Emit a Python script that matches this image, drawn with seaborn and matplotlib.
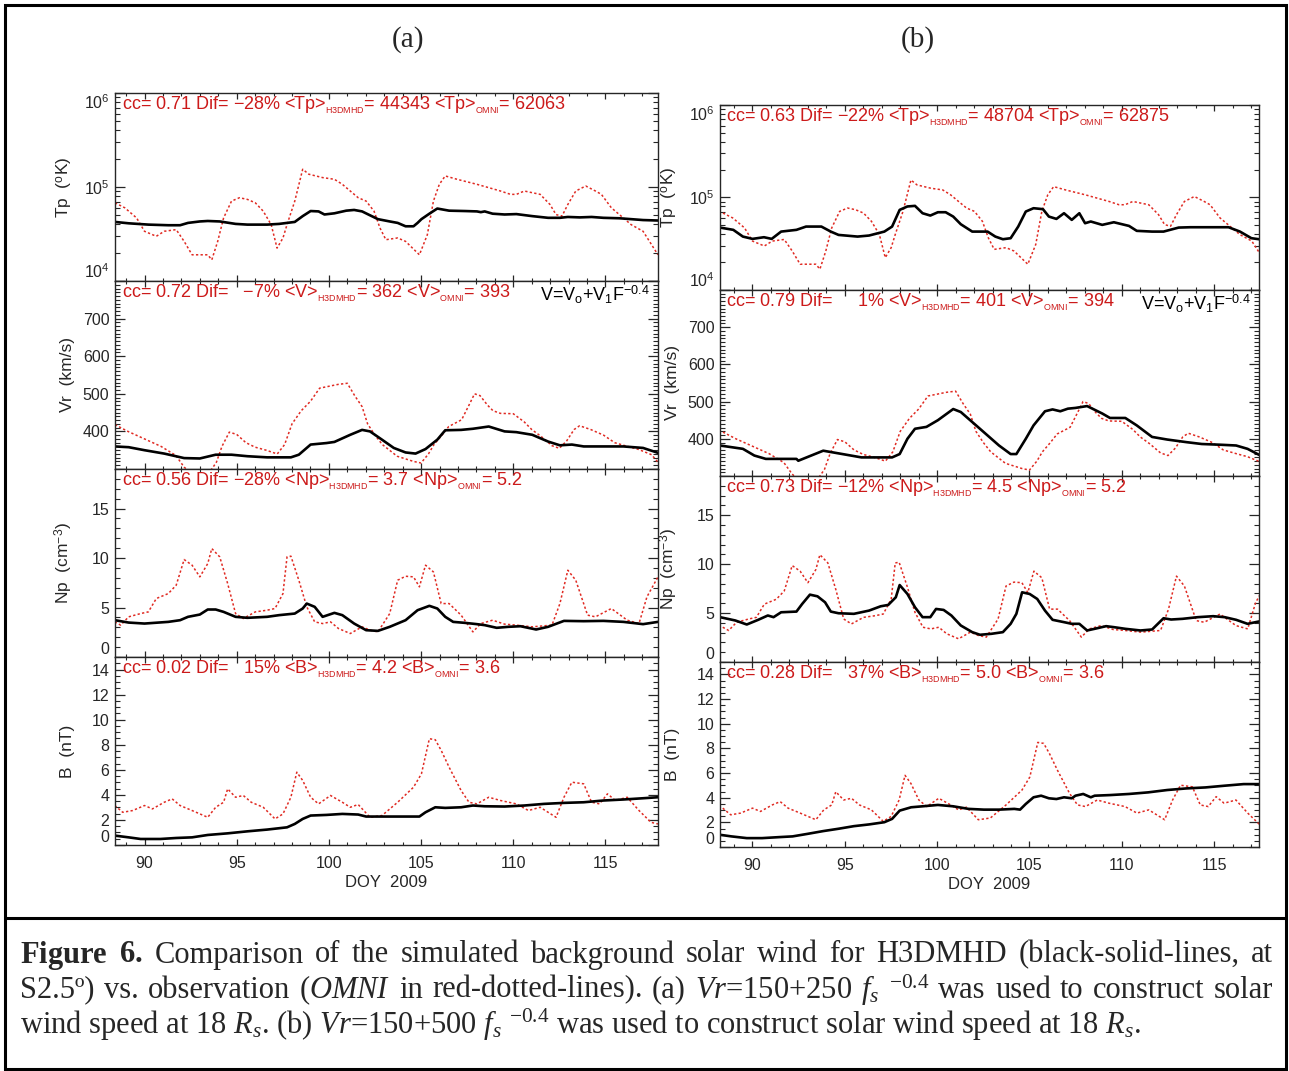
import numpy as np
import matplotlib
matplotlib.use('Agg')
import matplotlib.pyplot as plt
import seaborn as sns
from matplotlib.ticker import MultipleLocator, LogLocator, NullFormatter
from matplotlib.patches import Rectangle
from matplotlib.lines import Line2D

# ---- OMNI observations (red dotted, same in both columns) ----
omni_tp_day = [88.4, 88.93, 89.57, 90.0, 90.64, 91.07, 91.72, 92.15, 92.58, 93.43, 93.65, 93.97, 94.29, 94.72,
               95.15, 95.58, 96.01, 96.44, 96.87, 97.19, 97.51, 97.73, 98.15, 98.58, 98.91, 99.66, 100.3, 100.73,
               101.16, 101.59, 102.02, 102.45, 102.77, 103.09, 103.73, 104.16, 104.91, 105.34, 105.67, 105.99,
               106.31, 106.95, 108.03, 108.67, 109.31, 109.85, 110.17, 110.6, 111.46, 111.99, 112.32, 112.64,
               112.96, 113.39, 113.93, 114.46, 114.78, 115.32, 115.86, 116.39, 117.04, 117.85]
omni_tp = [67900, 60100, 46900, 33800, 29900, 33800, 35200, 26400, 19000, 19000, 16800, 26400, 46900, 70800,
           76900, 73800, 67900, 55300, 39800, 22400, 28700, 39800, 70800, 154500, 136800, 125900, 120800, 106800,
           90600, 76900, 70800, 55300, 36700, 27500, 28700, 26400, 19000, 31100, 70800, 106800,
           131100, 120800, 106800, 98400, 90600, 83500, 83500, 90600, 83500, 65200, 50900, 48900,
           65200, 90600, 102500, 90600, 83500, 60100, 48900, 39800, 33800, 19000]

omni_vr_day = [88.4, 89.1, 90.0, 90.9, 91.7, 92.15, 92.6, 93.2, 93.65, 93.9, 94.2, 94.6, 95.0, 95.5, 96.0, 96.6,
               97.2, 97.6, 98.0, 98.5, 99.0, 99.5, 100.0, 100.5, 101.0, 101.4, 101.8, 102.1, 102.5, 102.9, 103.7,
               104.6, 105.0, 105.4, 105.7, 106.1, 106.5, 107.2, 107.6, 107.9, 108.2, 108.6, 108.9, 109.3, 110.0,
               110.6, 111.0, 111.5, 112.1, 112.5, 112.9, 113.3, 113.6, 114.2, 114.9, 115.5, 116.2, 116.8, 117.5,
               117.85]
omni_vr = [418, 400, 380, 360, 336, 305, 285, 280, 300, 318, 360, 398, 392, 370, 358, 350,
           340, 365, 420, 455, 480, 515, 520, 525, 528, 495, 466, 420, 390, 365, 334,
           320, 316, 340, 365, 388, 413, 431, 470, 500, 495, 470, 455, 448, 447,
           425, 405, 387, 362, 355, 375, 405, 415, 405, 390, 370, 360, 352, 338,
           318]

omni_np_day = [88.39, 88.71, 89.14, 89.79, 90.21, 90.64, 91.29, 91.72, 92.15, 92.58, 93.0, 93.43, 93.65, 94.08,
               94.51, 94.94, 95.36, 96.01, 96.65, 97.08, 97.51, 97.73, 97.94, 98.37, 98.8, 99.23, 99.66, 100.09,
               100.52, 101.16, 101.8, 102.23, 102.66, 103.3, 103.73, 104.16, 104.59, 104.91, 105.24, 105.67,
               106.09, 106.52, 107.17, 107.81, 108.24, 108.88, 109.53, 110.17, 111.03, 112.1, 112.53, 112.96,
               113.39, 114.03, 114.46, 115.32, 116.18, 116.82, 117.25, 117.85]
omni_np = [3.55, 3.22, 4.06, 4.39, 4.56, 5.91, 6.41, 7.26, 9.85, 9.28, 8.10, 9.44, 10.96, 10.12,
           7.42, 4.39, 3.89, 4.56, 4.73, 4.90, 6.41, 10.12, 10.19, 7.76, 5.07, 3.55, 3.38, 3.55,
           2.88, 2.37, 3.05, 2.71, 2.54, 4.39, 7.76, 8.16, 8.10, 7.09, 9.28, 8.60,
           5.40, 5.40, 4.23, 2.54, 3.38, 3.72, 3.32, 3.22, 3.05, 3.22, 5.40, 8.77,
           7.76, 4.23, 4.06, 4.90, 3.72, 3.38, 6.08, 8.10]

omni_b_day = [88.39, 88.82, 89.36, 90.0, 90.43, 91.07, 91.5, 91.93, 92.58, 93.43, 93.86, 94.29, 94.51, 94.94,
              95.36, 95.79, 96.44, 97.08, 97.51, 97.94, 98.26, 98.58, 99.01, 99.44, 100.09, 100.73, 101.16,
              101.59, 102.23, 102.88, 103.73, 104.59, 105.02, 105.45, 105.77, 106.09, 106.52, 107.17, 107.6,
              108.03, 108.67, 109.31, 110.17, 110.82, 111.46, 112.32, 112.75, 113.18, 113.82, 114.25, 114.68,
              115.11, 115.54, 116.18, 116.82, 117.47, 117.85]
omni_b = [3.15, 2.61, 2.75, 3.15, 2.88, 3.41, 3.68, 3.15, 2.75, 2.21, 3.01, 3.41, 4.48, 3.81,
          3.95, 3.41, 3.01, 2.08, 2.48, 3.81, 5.81, 5.15, 3.81, 3.28, 3.95, 3.41, 3.01,
          3.23, 2.21, 2.35, 3.41, 4.61, 5.68, 8.48, 8.40, 7.55, 6.21, 4.35, 3.41,
          3.28, 3.81, 3.55, 3.28, 2.75, 3.01, 2.21, 3.81, 5.01, 4.88, 3.41, 3.28,
          4.08, 3.55, 3.81, 2.75, 1.81, 1.68]

# ---- H3DMHD run (a): Vr = 150 + 250 fs^-0.4 ----
a_tp_day = [88.4, 89.14, 90.21, 91.29, 91.93, 92.36, 93.0, 93.43, 94.08, 94.94, 95.58, 96.65, 97.3, 97.73,
            98.15, 98.58, 99.01, 99.44, 99.76, 100.3, 100.94, 101.37, 101.8, 102.23, 102.66, 103.3, 103.73,
            104.16, 104.59, 104.81, 105.02, 105.45, 105.88, 106.52, 107.38, 108.03, 108.24, 108.45, 108.88,
            109.53, 110.17, 111.03, 111.89, 112.53, 112.96, 113.61, 114.25, 114.89, 115.75, 117.04, 117.85]
a_tp = [42500, 41100, 39800, 39200, 39200, 41500, 43000, 43500, 43000, 40500, 39800, 39800, 40500, 41500,
        42500, 49000, 55500, 55000, 51000, 52500, 56000, 57000, 55000, 50000, 45500, 43000, 41500,
        38200, 38200, 41500, 45500, 52000, 59000, 56000, 55500, 55000, 54000, 55000, 52000,
        51000, 51500, 49000, 47000, 47000, 48000, 47500, 48000, 47000, 46500, 44500, 44000]

a_vr_day = [88.39, 89.14, 90.0, 91.07, 92.15, 93.0, 93.86, 94.72, 95.58, 96.65, 97.94, 98.37, 99.01, 99.87,
            100.3, 101.16, 101.8, 102.23, 102.88, 103.52, 104.16, 104.7, 105.24, 105.88, 106.31, 107.17,
            107.81, 108.67, 109.53, 110.17, 111.03, 111.89, 112.53, 113.18, 113.82, 114.89, 115.97, 117.04,
            117.85]
a_vr = [360, 358, 350, 341, 329, 328, 338, 338, 334, 331, 331, 338, 365, 369,
        372, 391, 404, 400, 378, 356, 344, 341, 353, 378, 403, 404,
        407, 413, 400, 398, 391, 373, 363, 365, 360, 360, 360, 356,
        343]

a_np_day = [88.39, 89.14, 90.0, 91.29, 91.93, 92.36, 93.0, 93.43, 93.86, 94.29, 94.94, 95.58, 96.65, 97.3,
            98.15, 98.58, 98.8, 99.23, 99.66, 100.3, 100.73, 101.37, 102.02, 102.66, 103.3, 104.16, 104.81,
            105.45, 105.88, 106.31, 106.74, 107.38, 108.03, 108.45, 109.1, 109.74, 110.39, 111.24, 111.89,
            112.75, 113.82, 114.89, 115.97, 117.04, 117.85]
a_np = [3.72, 3.48, 3.38, 3.55, 3.72, 4.06, 4.29, 4.80, 4.80, 4.56, 4.06, 3.96, 4.06, 4.23,
        4.39, 4.90, 5.40, 5.07, 4.06, 4.46, 4.23, 3.38, 2.71, 2.64, 3.05, 3.72, 4.73,
        5.17, 4.90, 4.06, 3.55, 3.45, 3.32, 3.22, 2.95, 3.05, 3.11, 2.78, 3.05,
        3.65, 3.62, 3.65, 3.55, 3.32, 3.55]

a_b_day = [88.39, 89.14, 89.79, 90.86, 91.72, 92.58, 93.43, 94.51, 95.58, 96.65, 97.73, 98.15, 98.58, 99.01,
           99.87, 100.73, 101.59, 102.02, 103.09, 104.16, 104.91, 105.24, 105.77, 106.31, 107.17, 107.81,
           108.45, 109.53, 110.6, 111.67, 112.75, 113.82, 114.89, 115.97, 117.04, 117.85]
a_b = [0.75, 0.61, 0.48, 0.48, 0.56, 0.61, 0.80, 0.93, 1.09, 1.23, 1.41, 1.68, 2.08, 2.35,
       2.40, 2.48, 2.43, 2.27, 2.27, 2.27, 2.27, 2.61, 3.01, 2.96, 3.01, 3.15,
       3.09, 3.07, 3.15, 3.28, 3.36, 3.41, 3.55, 3.63, 3.73, 3.81]

# ---- H3DMHD run (b): Vr = 150 + 500 fs^-0.4 ----
b_tp_day = [88.24, 88.96, 89.48, 90.0, 90.62, 91.04, 91.55, 92.38, 92.9, 93.73, 94.24, 94.66, 95.69, 96.31,
            97.14, 97.56, 97.97, 98.39, 98.8, 99.21, 99.63, 100.04, 100.46, 100.87, 101.28, 101.9, 102.73,
            103.15, 103.56, 103.98, 104.39, 104.8, 105.22, 105.73, 106.05, 106.46, 106.87, 107.29, 107.7,
            108.01, 108.32, 108.94, 109.57, 110.39, 110.81, 111.64, 112.26, 113.08, 113.71, 114.53, 115.78,
            116.4, 117.02, 117.43]
b_tp = [47300, 44700, 37800, 35700, 37200, 35700, 42800, 44700, 48500, 48500, 42800, 39400, 37800, 38800,
        42800, 48500, 73500, 80000, 81200, 67600, 63800, 69300, 69300, 62200, 51400, 42800, 42800,
        37800, 35400, 36300, 48500, 70500, 76600, 74800, 62200, 58700, 67600, 57300, 67600,
        52700, 55000, 50600, 54000, 49300, 43600, 42800, 42800, 47300, 47700, 47700, 47700,
        42800, 36300, 35400]

b_vr_day = [88.24, 89.48, 90.1, 90.72, 92.38, 92.48, 93.83, 94.87, 95.9, 97.56, 97.97, 98.39, 98.8, 99.42,
            100.04, 100.87, 101.28, 102.11, 102.73, 103.35, 103.98, 104.29, 104.8, 105.22, 105.84, 106.25,
            106.67, 107.08, 107.49, 108.12, 108.94, 109.36, 110.19, 110.81, 111.64, 112.46, 113.5, 114.33,
            115.36, 116.19, 116.81, 117.43]
b_vr = [382, 373, 355, 346, 346, 341, 368, 359, 350, 350, 359, 400, 427, 432,
        450, 480, 472, 436, 409, 382, 359, 359, 400, 436, 474, 479,
        474, 481, 483, 488, 468, 456, 456, 436, 405, 398, 391, 386,
        384, 382, 373, 357]

b_np_day = [88.24, 89.07, 89.69, 90.31, 90.83, 91.14, 91.55, 92.38, 92.69, 93.11, 93.52, 93.93, 94.24, 94.66,
            95.49, 96.31, 96.94, 97.35, 97.76, 97.97, 98.39, 98.8, 99.21, 99.63, 99.94, 100.35, 100.77,
            101.28, 101.9, 102.32, 102.94, 103.56, 103.98, 104.29, 104.6, 105.01, 105.42, 105.84, 106.25,
            106.87, 107.29, 107.7, 108.12, 108.53, 109.15, 109.57, 110.19, 111.01, 111.64, 112.26, 112.67,
            113.29, 114.12, 114.95, 115.57, 116.19, 116.81, 117.43]
b_np = [4.58, 4.24, 3.83, 4.31, 4.75, 4.58, 5.08, 5.15, 5.93, 6.88, 6.71, 6.10, 5.15, 4.98,
        4.92, 5.25, 5.69, 5.83, 6.61, 7.86, 6.95, 5.59, 4.58, 4.58, 5.42, 5.32, 4.75,
        3.73, 3.05, 2.78, 2.88, 3.05, 3.90, 4.92, 7.12, 6.95, 6.44, 5.25, 4.31,
        4.07, 3.90, 3.90, 3.22, 3.39, 3.66, 3.56, 3.39, 3.22, 3.32, 4.47, 4.34,
        4.41, 4.58, 4.68, 4.58, 4.31, 3.90, 4.14]

b_b_day = [88.24, 88.86, 89.69, 90.52, 91.55, 92.17, 93.0, 93.83, 94.66, 95.49, 96.31, 97.14, 97.56, 97.97,
           98.59, 99.21, 100.04, 100.87, 101.7, 102.53, 103.35, 104.18, 104.49, 104.8, 105.22, 105.63,
           106.05, 106.46, 106.87, 107.29, 107.49, 107.91, 108.32, 108.53, 109.36, 110.39, 111.43, 112.46,
           113.5, 114.53, 115.57, 116.6, 117.43]
b_b = [0.99, 0.86, 0.72, 0.72, 0.81, 0.86, 1.07, 1.29, 1.48, 1.69, 1.83, 2.01, 2.28, 2.95,
       3.22, 3.30, 3.41, 3.30, 3.09, 3.03, 3.03, 3.09, 3.03, 3.49, 4.03, 4.16,
       3.95, 3.89, 4.03, 3.95, 4.16, 4.30, 4.03, 4.16, 4.21, 4.30, 4.43, 4.62,
       4.75, 4.83, 4.97, 5.10, 5.10]

# ---- panel statistics text ----
quantities = ['Tp', 'V', 'Np', 'B']
a_cc = ['0.71', '0.72', '0.56', '0.02']
a_dif = ['\u221228%', '  \u22127%', '\u221228%', '  15%']
a_mean_model = ['44343', '362', '3.7', '4.2']
a_mean_omni = ['62063', '393', '5.2', '3.6']
b_cc = ['0.63', '0.79', '0.73', '0.28']
b_dif = ['\u221222%', '    1%', '\u221212%', '  37%']
b_mean_model = ['48704', '401', '4.5', '5.0']
b_mean_omni = ['62875', '394', '5.2', '3.6']

ylabels = ['Tp  ($^{\\mathdefault{o}}$K)', 'Vr  (km/s)', 'Np  (cm$^{\\mathdefault{-3}}$)', 'B  (nT)']
ylims = [(1e4, 1e6), (300, 800), (0, 19), (0, 15)]
xticks = [90, 95, 100, 105, 110, 115]

sns.set_style('ticks')
plt.rcParams['font.family'] = ['Liberation Sans', 'DejaVu Sans']
plt.rcParams['mathtext.fontset'] = 'custom'
plt.rcParams['mathtext.rm'] = 'Liberation Serif'
plt.rcParams['mathtext.it'] = 'Liberation Serif:italic'
plt.rcParams['mathtext.bf'] = 'Liberation Serif:bold'
plt.rcParams['axes.linewidth'] = 1.0

RED_LINE = '#e02a22'
RED_TEXT = '#cc1a1a'

W, H = 1289, 1071
fig = plt.figure(figsize=(W / 100, H / 100), dpi=100)


def add_ax(x0, x1, y0, y1):
    return fig.add_axes([x0 / W, 1 - y1 / H, (x1 - x0) / W, (y1 - y0) / H])


columns = [
    dict(x=(115, 658), rows=[(93, 281), (281, 469), (469, 657), (657, 845)], xlim=(88.4, 117.85),
         model=[(a_tp_day, a_tp), (a_vr_day, a_vr), (a_np_day, a_np), (a_b_day, a_b)],
         cc=a_cc, dif=a_dif, mm=a_mean_model, mo=a_mean_omni, title='(a)', tx=408),
    dict(x=(720, 1259), rows=[(105, 290), (290, 476), (476, 662), (662, 847)], xlim=(88.24, 117.43),
         model=[(b_tp_day, b_tp), (b_vr_day, b_vr), (b_np_day, b_np), (b_b_day, b_b)],
         cc=b_cc, dif=b_dif, mm=b_mean_model, mo=b_mean_omni, title='(b)', tx=918),
]
omni = [(omni_tp_day, omni_tp), (omni_vr_day, omni_vr), (omni_np_day, omni_np), (omni_b_day, omni_b)]

for col in columns:
    fig.text(col['tx'] / W, 1 - 40 / H, col['title'], family='Liberation Serif', fontsize=21,
             ha='center', va='center')
    for i, (y0, y1) in enumerate(col['rows']):
        ax = add_ax(col['x'][0], col['x'][1], y0, y1)
        if i == 0:
            ax.set_yscale('log')
        od, ov = omni[i]
        md, mv = col['model'][i]
        sns.lineplot(x=od, y=ov, ax=ax, color=RED_LINE, linewidth=1.1, linestyle=(0, (1.5, 1.5)))
        sns.lineplot(x=md, y=mv, ax=ax, color='black', linewidth=1.9)
        ax.set_xlim(*col['xlim'])
        ax.set_ylim(*ylims[i])

        ax.set_xticks(xticks)
        ax.xaxis.set_minor_locator(MultipleLocator(1))
        if i == 0:
            ax.set_yticks([1e4, 1e5, 1e6])
            ax.yaxis.set_minor_locator(LogLocator(base=10, subs=np.arange(2, 10)))
            ax.yaxis.set_minor_formatter(NullFormatter())
        elif i == 1:
            ax.set_yticks([300, 400, 500, 600, 700, 800], ['', '400', '500', '600', '700', ''])
            ax.yaxis.set_minor_locator(MultipleLocator(10))
        elif i == 2:
            ax.set_yticks([0, 5, 10, 15])
            ax.yaxis.set_minor_locator(MultipleLocator(1))
        else:
            ax.set_yticks([0, 2, 4, 6, 8, 10, 12, 14])
            ax.yaxis.set_minor_locator(MultipleLocator(0.5))

        ax.tick_params(axis='y', which='major', direction='in', length=7, width=0.9, right=True,
                       labelsize=11.5, pad=4)
        ax.tick_params(axis='y', which='minor', direction='in', length=3.5, width=0.8, right=True)
        ax.tick_params(axis='x', which='major', direction='in', length=4.5, width=0.9, top=True,
                       labelsize=11.5, pad=8)
        ax.tick_params(axis='x', which='minor', direction='in', length=2.3, width=0.8, top=True)

        # like the original, edge labels are pushed inside the panel
        yt = ax.yaxis.get_major_ticks()
        if i in (0, 2, 3):
            yt[0].label1.set_verticalalignment('bottom')
        if i == 0:
            yt[-1].label1.set_verticalalignment('top')

        if i < 3:
            ax.tick_params(axis='x', labelbottom=False)
            ax.set_xlabel('')
        else:
            ax.set_xlabel('DOY  2009', fontsize=12, labelpad=3)

        ax.set_ylabel(ylabels[i], fontsize=12.5)
        ax.yaxis.set_label_coords(-0.074, 0.5)

        q = quantities[i]
        stats = (f"cc= {col['cc'][i]} Dif= {col['dif'][i]} <{q}>$_{{_{{\\mathdefault{{H3DMHD}}}}}}$= "
                 f"{col['mm'][i]} <{q}>$_{{_{{\\mathdefault{{OMNI}}}}}}$= {col['mo'][i]}")
        ax.text(0.012, 0.99, stats, transform=ax.transAxes, color=RED_TEXT, fontsize=13,
                ha='left', va='top')
        if i == 1:
            ax.text(0.985, 0.985, 'V=V$_{\\mathdefault{o}}$+V$_{\\mathdefault{1}}$F$^{\\mathdefault{-0.4}}$',
                    transform=ax.transAxes, color='black', fontsize=13, ha='right', va='top')

# frame and caption
fig.add_artist(Rectangle((5 / W, 1 - 1069 / H), 1281 / W, 1064 / H, transform=fig.transFigure,
                         fill=False, edgecolor='black', linewidth=2.2))
fig.add_artist(Line2D([5 / W, 1286 / W], [1 - 918 / H, 1 - 918 / H], transform=fig.transFigure,
                      color='black', linewidth=2.2))

caption_line1 = [r"$\mathbf{Figure}$", r"$\mathbf{6.}$", "Comparison", "of", "the", "simulated", "background",
                 "solar", "wind", "for", "H3DMHD", "(black-solid-lines,", "at"]
caption_line2 = ["S2.5º)", "vs.", "observation", "($OMNI$", "in", "red-dotted-lines).", "(a)", "$Vr$=150+250",
                 "$f_s$", "$^{-0.4}$", "was", "used", "to", "construct", "solar"]
caption_line3 = r"wind speed at 18 $R_s$. (b) $Vr$=150+500 $f_s$ $^{-0.4}$ was used to construct solar wind speed at 18 $R_s$."

cap_style = dict(family='Liberation Serif', fontsize=22, ha='left', va='center')
renderer = fig.canvas.get_renderer()


def justify(tokens, y, x0=20, x1=1273):
    texts = [fig.text(0, 1 - y / H, t, **cap_style) for t in tokens]
    widths = [t.get_window_extent(renderer).width for t in texts]
    gap = (x1 - x0 - sum(widths)) / (len(tokens) - 1)
    x = x0
    for t, w in zip(texts, widths):
        t.set_x(x / W)
        x += w + gap


justify(caption_line1, 955)
justify(caption_line2, 990)
fig.text(20 / W, 1 - 1025 / H, caption_line3, **cap_style)

fig.savefig('out.png', dpi=100)
